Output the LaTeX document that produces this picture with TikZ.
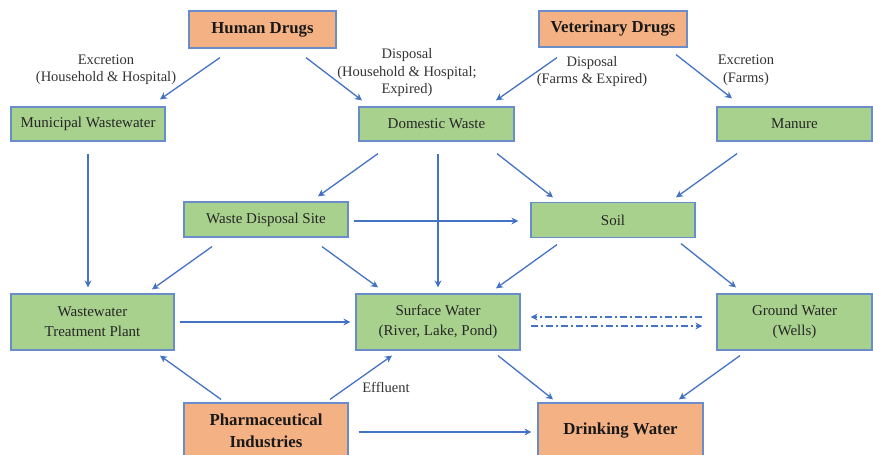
\documentclass[tikz,border=0pt]{standalone}
\usepackage{fontspec}
\setmainfont{Liberation Serif}
\usetikzlibrary{calc,arrows.meta}
\definecolor{boxgreen}{HTML}{A9D18E}
\definecolor{boxorange}{HTML}{F4B183}
\definecolor{boxline}{HTML}{6A8CC8}
\definecolor{arrblue}{HTML}{4472C4}
\definecolor{labgray}{HTML}{333333}
\tikzset{
  gbox/.style={draw=boxline, line width=1.2pt, fill=boxgreen, align=center, inner sep=0pt,
    font=\fontsize{15}{20}\selectfont, text=black!85},
  obox/.style={draw=boxline, line width=1.2pt, fill=boxorange, align=center, inner sep=0pt,
    font=\fontsize{16.8}{21.5}\selectfont\bfseries, text=black!90},
  arr/.style={draw=arrblue, line width=1.3pt, -{Stealth[length=7pt,width=7pt]}},
  darr/.style={draw=arrblue, line width=1.3pt, dash pattern=on 7pt off 3pt on 2pt off 3pt, -{Stealth[length=7pt,width=7pt]}},
  lab/.style={align=center, font=\fontsize{14.5}{17.5}\selectfont, text=labgray, inner sep=0pt}
}
\begin{document}
\begin{tikzpicture}[x=1pt,y=-1pt]
\useasboundingbox (0,0) rectangle (873,455);
\clip (0,0) rectangle (873,455);
% nodes
\node[obox, minimum width=147pt, minimum height=37pt] (hd) at (262.5,29.5) {Human Drugs};
\node[obox, minimum width=148pt, minimum height=36pt] (vd) at (613,29) {Veterinary Drugs};
\node[gbox, minimum width=154pt, minimum height=34pt] (mw) at (88,124) {Municipal Wastewater};
\node[gbox, minimum width=155pt, minimum height=34pt] (dw) at (436.5,124) {Domestic Waste};
\node[gbox, minimum width=155pt, minimum height=34pt] (ma) at (794.5,124) {Manure};
\node[gbox, minimum width=164pt, minimum height=35pt] (wds) at (266,219.5) {Waste Disposal Site};
\node[gbox, minimum width=164pt, minimum height=35pt] (soil) at (613,220) {Soil};
\node[gbox, minimum width=163pt, minimum height=56pt] (wwtp) at (92.5,322) {Wastewater\\Treatment Plant};
\node[gbox, minimum width=164pt, minimum height=56pt] (sw) at (438,322) {Surface Water\\(River, Lake, Pond)};
\node[gbox, minimum width=155pt, minimum height=56pt] (gw) at (794.5,322) {Ground Water\\(Wells)};
\node[obox, minimum width=164pt, minimum height=56pt] (ph) at (266,431) {Pharmaceutical\\Industries};
\node[obox, minimum width=165pt, minimum height=56pt] (dwat) at (620.5,431) {Drinking Water};
% labels
\node[lab] (l1) at (106,69.5) {Excretion\\(Household \& Hospital)};
\node[lab] (l2) at (407,73) {Disposal\\(Household \& Hospital;\\Expired)};
\node[lab] (l3) at (592,71.5) {Disposal\\(Farms \& Expired)};
\node[lab] (l4) at (746,70) {Excretion\\(Farms)};
\node[lab] (l5) at (386,387) {Effluent};
% connectors
\draw[arr] ($(hd.south)+(-42.5,9)$) -- ($(mw.north)+(72,-7)$);
\draw[arr] ($(hd.south)+(43.5,9)$) -- ($(dw.north)+(-74.5,-6)$);
\draw[arr] ($(vd.south)+(-56,10)$) -- ($(dw.north)+(59.5,-6)$);
\draw[arr] ($(vd.south)+(63,7)$) -- ($(ma.north)+(-62.5,-8)$);
\draw[arr] ($(mw.south)+(0,12)$) -- ($(wwtp.north)+(-4.5,-6)$);
\draw[arr] ($(dw.south)+(-58.5,12)$) -- ($(wds.north)+(52,-5)$);
\draw[arr] ($(dw.south)+(1.5,12)$) -- ($(sw.north)+(0,-6)$);
\draw[arr] ($(dw.south)+(60.5,12)$) -- ($(soil.north)+(-60,-4.5)$);
\draw[arr] ($(ma.south)+(-57.5,12)$) -- ($(soil.north)+(63,-4.5)$);
\draw[arr] ($(wds.east)+(5,1.5)$) -- ($(soil.west)+(-12,1)$);
\draw[arr] ($(wds.south)+(-54,9)$) -- ($(wwtp.north)+(59.5,-4)$);
\draw[arr] ($(wds.south)+(56,9)$) -- ($(sw.north)+(-60,-6)$);
\draw[arr] ($(soil.south)+(-56,6.5)$) -- ($(sw.north)+(58,-5)$);
\draw[arr] ($(soil.south)+(68,5.5)$) -- ($(gw.north)+(-58.5,-6)$);
\draw[arr] ($(wwtp.east)+(5,0)$) -- ($(sw.west)+(-5,0)$);
\draw[arr] ($(ph.north)+(-45,-3)$) -- ($(wwtp.south)+(67.5,5)$);
\draw[arr] ($(ph.north)+(64,-3)$) -- ($(sw.south)+(-46,5)$);
\draw[arr] ($(ph.east)+(10,1)$) -- ($(dwat.west)+(-6,1)$);
\draw[arr] ($(sw.south)+(60,5)$) -- ($(dwat.north)+(-67.5,-3)$);
\draw[arr] ($(gw.south)+(-54.5,5)$) -- ($(dwat.north)+(58.5,-3)$);
\draw[darr] ($(gw.west)+(-14,-5)$) -- ($(sw.east)+(10,-5)$);
\draw[darr] ($(sw.east)+(10,4)$) -- ($(gw.west)+(-14,4)$);
\end{tikzpicture}
\end{document}
